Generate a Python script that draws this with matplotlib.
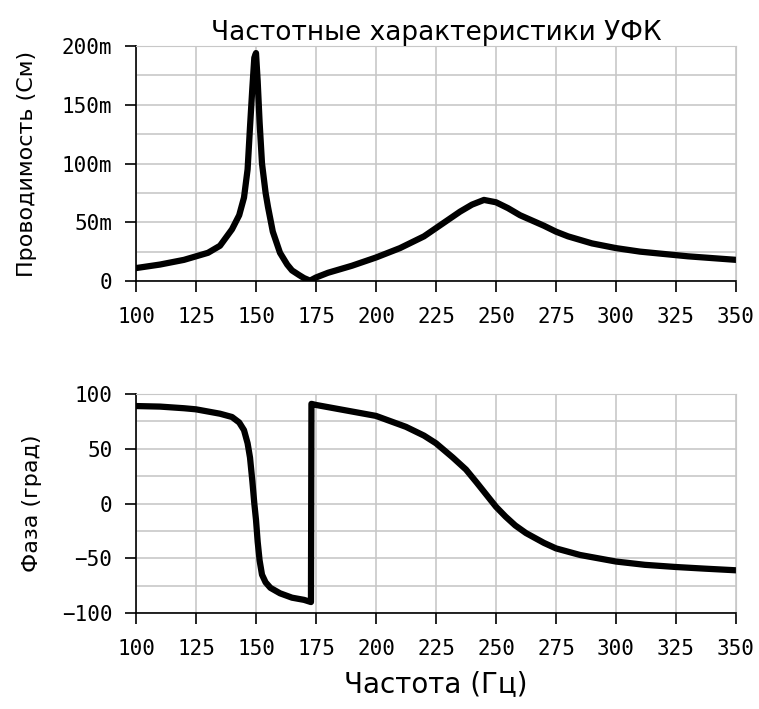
"""
Частотные характеристики УФК: проводимость и фаза
"""

import matplotlib

matplotlib.use("Agg")
import matplotlib.pyplot as plt
from matplotlib.ticker import FuncFormatter, MultipleLocator

# частота, Гц / проводимость, мСм
freq_y = [100, 110, 120, 125, 130, 135, 140, 143, 145, 146.5, 147.5, 148.5, 149.3, 150,
          150.7, 151.5, 152.5, 154, 155, 157, 160, 163, 165, 168, 170, 172.5, 175, 180,
          190, 200, 210, 220, 225, 230, 235, 240, 245, 250, 255, 260, 270, 275, 280, 290,
          300, 310, 320, 330, 340, 350]
admit = [11, 14, 18, 21, 24, 30, 44, 56, 71, 95, 131, 165, 190, 194, 170, 135, 100,
         75, 63, 42, 24, 14, 9, 5, 2.5, 0.3, 3, 7, 13, 20, 28, 38, 45, 52, 59, 65, 69,
         67, 62, 56, 47, 42, 38, 32, 28, 25, 23, 21, 19.5, 18]

# частота, Гц / фаза, град
freq_ph = [100, 110, 120, 125, 130, 135, 140, 143, 145, 146.5, 147.5, 148.5, 149.3,
           150, 150.7, 151.5, 152.5, 154, 156, 160, 165, 170, 172.9, 173.1, 175, 185,
           200, 212.5, 220, 225, 232, 237.5, 242, 246, 250, 254, 258, 262.5, 270, 275,
           285, 300, 312, 325, 337, 350]
phase = [89, 88.5, 87, 86, 84, 82, 79, 74, 67, 55, 42, 20, 0, -15, -35, -52, -65,
         -72, -77, -82, -86, -88, -90, 91, 90, 86, 80, 70, 62, 55, 42, 31, 19, 8, -3,
         -12, -20, -27, -36, -41, -47, -53, -56, -58, -59.5, -61]

FONT_SIZE = 15
GRID_COLOR = "#c8c8c8"

fig = plt.figure(figsize=(7.59, 7.09), dpi=100)
ax1 = fig.add_axes([136 / 759, 1 - 281 / 709, 600 / 759, 235 / 709])
ax2 = fig.add_axes([136 / 759, 1 - 613 / 709, 600 / 759, 219 / 709])

ax1.plot(freq_y, admit, color="black", lw=4.5)
ax2.plot(freq_ph, phase, color="black", lw=4.5)

ax1.set_ylim(0, 200)
ax2.set_ylim(-100, 100)
ax1.yaxis.set_major_locator(MultipleLocator(50))
ax1.yaxis.set_minor_locator(MultipleLocator(25))
ax2.yaxis.set_major_locator(MultipleLocator(50))
ax2.yaxis.set_minor_locator(MultipleLocator(25))
ax1.yaxis.set_major_formatter(FuncFormatter(lambda v, p: "0" if v == 0 else f"{v:.0f}m"))

for ax in (ax1, ax2):
    ax.set_xlim(100, 350)
    ax.xaxis.set_major_locator(MultipleLocator(25))
    ax.grid(True, which="both", color=GRID_COLOR, lw=1.2)
    ax.set_axisbelow(True)
    ax.tick_params(axis="both", which="major", direction="out", length=8, width=1.2,
                   labelsize=FONT_SIZE)
    ax.tick_params(axis="x", pad=11)
    ax.tick_params(axis="y", pad=9)
    ax.tick_params(which="minor", length=0)
    for lbl in ax.get_xticklabels() + ax.get_yticklabels():
        lbl.set_family("DejaVu Sans Mono")
    for side in ("top", "right"):
        ax.spines[side].set_color(GRID_COLOR)
    for side in ("left", "bottom"):
        ax.spines[side].set_linewidth(1.2)

ax1.set_title("Частотные характеристики УФК", fontsize=19, pad=2)
ax1.set_ylabel("Проводимость (См)", fontsize=16)
ax1.yaxis.set_label_coords(-0.165, 0.5)
ax2.set_ylabel("Фаза (град)", fontsize=16)
ax2.yaxis.set_label_coords(-0.157, 0.5)
ax2.set_xlabel("Частота (Гц)", fontsize=20, labelpad=8)

plt.savefig("out.png", dpi=100)
plt.close()
